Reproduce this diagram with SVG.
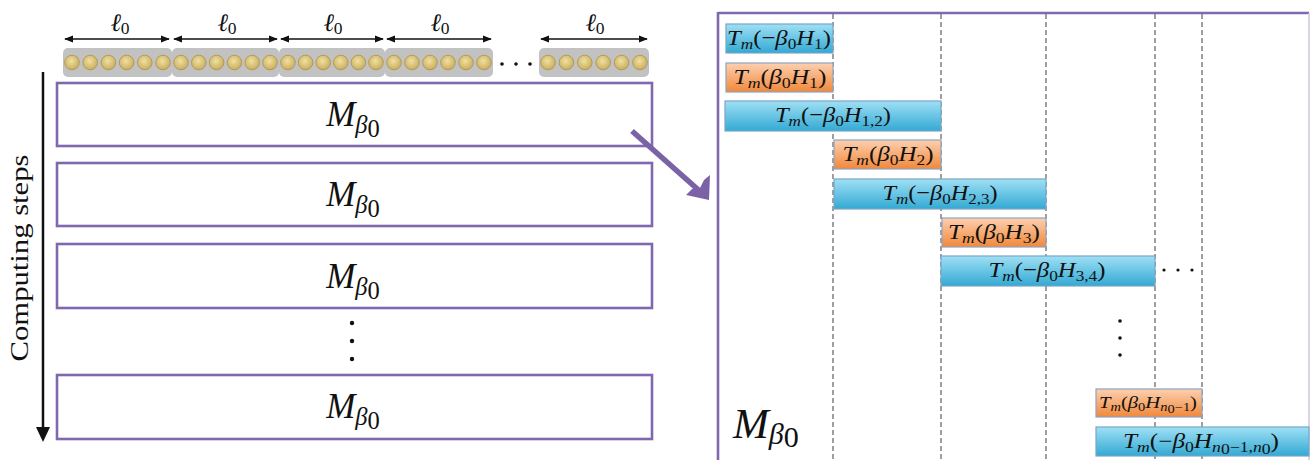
<svg xmlns="http://www.w3.org/2000/svg" width="1311" height="460" viewBox="0 0 1311 460">
<style>
.box{fill:#fff;stroke:#8068ae;stroke-width:2.6}
.seg{fill:#c2c2c2}
.bead{fill:url(#gold);stroke:#a8924c;stroke-width:0.8}
.m{font-family:"Liberation Serif","DejaVu Serif",serif;fill:#111}
.i{font-style:italic}
.s{font-size:70%}
.ell{font-family:"DejaVu Serif",serif;font-style:italic}
.dash{stroke:#777;stroke-width:1.4;stroke-dasharray:5,3;fill:none}
.blue{fill:url(#gb);stroke:#7aa6c6;stroke-width:1.2}
.orng{fill:url(#go);stroke:#8fa3c0;stroke-width:1.2}
.dim{stroke:#111;stroke-width:1.5;fill:none}
</style>
<defs>
<radialGradient id="gold" cx="0.45" cy="0.4" r="0.6">
<stop offset="0" stop-color="#f0e0a0"/><stop offset="1" stop-color="#c9ad5e"/>
</radialGradient>
<linearGradient id="gb" x1="0" y1="0" x2="0" y2="1">
<stop offset="0" stop-color="#9fe0f5"/><stop offset="1" stop-color="#33a9d3"/>
</linearGradient>
<linearGradient id="go" x1="0" y1="0" x2="0" y2="1">
<stop offset="0" stop-color="#fdd0b0"/><stop offset="1" stop-color="#f0883a"/>
</linearGradient>
<marker id="ah" viewBox="0 0 10 10" refX="9" refY="5" markerWidth="6" markerHeight="6" orient="auto-start-reverse">
<path d="M0,1 L10,5 L0,9 z" fill="#111"/>
</marker>
</defs>

<!-- chain of sites -->
<g id="chain">
<rect class="seg" x="63" y="48" width="109" height="29" rx="5"/>
<rect class="seg" x="172" y="48" width="107" height="29" rx="5"/>
<rect class="seg" x="279" y="48" width="106" height="29" rx="5"/>
<rect class="seg" x="385" y="48" width="108" height="29" rx="5"/>
<rect class="seg" x="539" y="48" width="110" height="29" rx="5"/>
<g>
<circle class="bead" cx="72" cy="62.5" r="7.3"/><circle class="bead" cx="90.2" cy="62.5" r="7.3"/><circle class="bead" cx="108.4" cy="62.5" r="7.3"/><circle class="bead" cx="126.6" cy="62.5" r="7.3"/><circle class="bead" cx="144.8" cy="62.5" r="7.3"/><circle class="bead" cx="163" cy="62.5" r="7.3"/>
<circle class="bead" cx="181" cy="62.5" r="7.3"/><circle class="bead" cx="198.8" cy="62.5" r="7.3"/><circle class="bead" cx="216.6" cy="62.5" r="7.3"/><circle class="bead" cx="234.4" cy="62.5" r="7.3"/><circle class="bead" cx="252.2" cy="62.5" r="7.3"/><circle class="bead" cx="270" cy="62.5" r="7.3"/>
<circle class="bead" cx="288" cy="62.5" r="7.3"/><circle class="bead" cx="305.6" cy="62.5" r="7.3"/><circle class="bead" cx="323.2" cy="62.5" r="7.3"/><circle class="bead" cx="340.8" cy="62.5" r="7.3"/><circle class="bead" cx="358.4" cy="62.5" r="7.3"/><circle class="bead" cx="376" cy="62.5" r="7.3"/>
<circle class="bead" cx="394" cy="62.5" r="7.3"/><circle class="bead" cx="412" cy="62.5" r="7.3"/><circle class="bead" cx="430" cy="62.5" r="7.3"/><circle class="bead" cx="448" cy="62.5" r="7.3"/><circle class="bead" cx="466" cy="62.5" r="7.3"/><circle class="bead" cx="484" cy="62.5" r="7.3"/>
<circle class="bead" cx="548" cy="62.5" r="7.3"/><circle class="bead" cx="566.4" cy="62.5" r="7.3"/><circle class="bead" cx="584.8" cy="62.5" r="7.3"/><circle class="bead" cx="603.2" cy="62.5" r="7.3"/><circle class="bead" cx="621.6" cy="62.5" r="7.3"/><circle class="bead" cx="640" cy="62.5" r="7.3"/>
</g>
<circle cx="502" cy="64" r="1.8" fill="#111"/><circle cx="516" cy="64" r="1.8" fill="#111"/><circle cx="530" cy="64" r="1.8" fill="#111"/>
</g>

<!-- length labels -->
<g id="lengths">
<line class="dim" x1="65" y1="39" x2="169" y2="39" marker-start="url(#ah)" marker-end="url(#ah)"/>
<line class="dim" x1="174" y1="39" x2="277" y2="39" marker-start="url(#ah)" marker-end="url(#ah)"/>
<line class="dim" x1="281" y1="39" x2="383" y2="39" marker-start="url(#ah)" marker-end="url(#ah)"/>
<line class="dim" x1="387" y1="39" x2="491" y2="39" marker-start="url(#ah)" marker-end="url(#ah)"/>
<line class="dim" x1="541" y1="39" x2="647" y2="39" marker-start="url(#ah)" marker-end="url(#ah)"/>
<text class="m" x="120" y="31" font-size="25" text-anchor="middle"><tspan class="ell">ℓ</tspan><tspan dy="3" class="s">0</tspan></text>
<text class="m" x="227" y="31" font-size="25" text-anchor="middle"><tspan class="ell">ℓ</tspan><tspan dy="3" class="s">0</tspan></text>
<text class="m" x="333" y="31" font-size="25" text-anchor="middle"><tspan class="ell">ℓ</tspan><tspan dy="3" class="s">0</tspan></text>
<text class="m" x="440" y="31" font-size="25" text-anchor="middle"><tspan class="ell">ℓ</tspan><tspan dy="3" class="s">0</tspan></text>
<text class="m" x="595" y="31" font-size="25" text-anchor="middle"><tspan class="ell">ℓ</tspan><tspan dy="3" class="s">0</tspan></text>
</g>

<!-- computing steps axis -->
<g id="axis">
<line x1="43" y1="72" x2="43" y2="428" stroke="#111" stroke-width="2.5"/>
<path d="M36,427 L50,427 L43,442 z" fill="#111"/>
<text class="m" x="0" y="0" font-size="26" text-anchor="middle" transform="translate(28,258) rotate(-90)" textLength="207" lengthAdjust="spacingAndGlyphs">Computing steps</text>
</g>

<!-- left M boxes -->
<g id="step1"><rect class="box" x="57" y="83" width="595" height="63"/>
<text class="m" x="353" y="126" font-size="35" text-anchor="middle"><tspan class="i">M</tspan><tspan class="i s" dy="7">β</tspan><tspan class="s" font-size="70%" dy="4">0</tspan></text></g>
<g id="step2"><rect class="box" x="57" y="163" width="595" height="63"/>
<text class="m" x="353" y="206" font-size="35" text-anchor="middle"><tspan class="i">M</tspan><tspan class="i s" dy="7">β</tspan><tspan class="s" font-size="70%" dy="4">0</tspan></text></g>
<g id="step3"><rect class="box" x="57" y="244" width="595" height="64"/>
<text class="m" x="353" y="288" font-size="35" text-anchor="middle"><tspan class="i">M</tspan><tspan class="i s" dy="7">β</tspan><tspan class="s" font-size="70%" dy="4">0</tspan></text></g>
<g id="vdots-left"><circle cx="352" cy="323" r="2.2" fill="#111"/><circle cx="352" cy="341" r="2.2" fill="#111"/><circle cx="352" cy="359" r="2.2" fill="#111"/></g>
<g id="step4"><rect class="box" x="57" y="375" width="595" height="64"/>
<text class="m" x="353" y="418" font-size="35" text-anchor="middle"><tspan class="i">M</tspan><tspan class="i s" dy="7">β</tspan><tspan class="s" font-size="70%" dy="4">0</tspan></text></g>

<!-- zoom arrow -->
<g id="connectors">
<line x1="632" y1="131" x2="703" y2="194" stroke="#7b62a7" stroke-width="5.5"/>
<path d="M709,200 L686,195 L692,189 L700,188 L704,180 L710,175 z" fill="#7b62a7"/>
</g>

<!-- right panel -->
<g id="panel">
<line x1="718" y1="13" x2="1309" y2="13" stroke="#8068ae" stroke-width="2.6"/>
<line x1="718" y1="12" x2="718" y2="460" stroke="#8068ae" stroke-width="2.6"/>
<line x1="1309" y1="13" x2="1309" y2="460" stroke="#cfc8dc" stroke-width="1.5"/>
<line class="dash" x1="833" y1="14" x2="833" y2="460"/>
<line class="dash" x1="941" y1="14" x2="941" y2="460"/>
<line class="dash" x1="1046" y1="14" x2="1046" y2="460"/>
<line class="dash" x1="1155" y1="14" x2="1155" y2="460"/>
<line class="dash" x1="1202" y1="14" x2="1202" y2="460"/>
<text class="m" x="733" y="438" font-size="43"><tspan class="i">M</tspan><tspan class="i s" dy="6">β</tspan><tspan class="s" font-size="70%" dy="3">0</tspan></text>
</g>

<g id="bar1"><rect class="blue" x="726" y="24" width="107" height="29"/>
<text class="m" x="779" y="45" font-size="22" text-anchor="middle" textLength="104" lengthAdjust="spacingAndGlyphs"><tspan class="i">T</tspan><tspan class="i s" dy="4">m</tspan><tspan dy="-4">(−</tspan><tspan class="i">β</tspan><tspan class="s" dy="4">0</tspan><tspan class="i" dy="-4">H</tspan><tspan class="s" dy="4">1</tspan><tspan dy="-4">)</tspan></text></g>
<g id="bar2"><rect class="orng" x="726" y="63" width="107" height="29"/>
<text class="m" x="780" y="84" font-size="22" text-anchor="middle" textLength="93" lengthAdjust="spacingAndGlyphs"><tspan class="i">T</tspan><tspan class="i s" dy="4">m</tspan><tspan dy="-4">(</tspan><tspan class="i">β</tspan><tspan class="s" dy="4">0</tspan><tspan class="i" dy="-4">H</tspan><tspan class="s" dy="4">1</tspan><tspan dy="-4">)</tspan></text></g>
<g id="bar3"><rect class="blue" x="725" y="101" width="216" height="30"/>
<text class="m" x="833" y="122" font-size="22" text-anchor="middle" textLength="116" lengthAdjust="spacingAndGlyphs"><tspan class="i">T</tspan><tspan class="i s" dy="4">m</tspan><tspan dy="-4">(−</tspan><tspan class="i">β</tspan><tspan class="s" dy="4">0</tspan><tspan class="i" dy="-4">H</tspan><tspan class="s" dy="4">1,2</tspan><tspan dy="-4">)</tspan></text></g>
<g id="bar4"><rect class="orng" x="834" y="140" width="107" height="29"/>
<text class="m" x="888" y="161" font-size="22" text-anchor="middle" textLength="91" lengthAdjust="spacingAndGlyphs"><tspan class="i">T</tspan><tspan class="i s" dy="4">m</tspan><tspan dy="-4">(</tspan><tspan class="i">β</tspan><tspan class="s" dy="4">0</tspan><tspan class="i" dy="-4">H</tspan><tspan class="s" dy="4">2</tspan><tspan dy="-4">)</tspan></text></g>
<g id="bar5"><rect class="blue" x="834" y="179" width="212" height="30"/>
<text class="m" x="940" y="200" font-size="22" text-anchor="middle" textLength="115" lengthAdjust="spacingAndGlyphs"><tspan class="i">T</tspan><tspan class="i s" dy="4">m</tspan><tspan dy="-4">(−</tspan><tspan class="i">β</tspan><tspan class="s" dy="4">0</tspan><tspan class="i" dy="-4">H</tspan><tspan class="s" dy="4">2,3</tspan><tspan dy="-4">)</tspan></text></g>
<g id="bar6"><rect class="orng" x="942" y="218" width="104" height="29"/>
<text class="m" x="994" y="239" font-size="22" text-anchor="middle" textLength="92" lengthAdjust="spacingAndGlyphs"><tspan class="i">T</tspan><tspan class="i s" dy="4">m</tspan><tspan dy="-4">(</tspan><tspan class="i">β</tspan><tspan class="s" dy="4">0</tspan><tspan class="i" dy="-4">H</tspan><tspan class="s" dy="4">3</tspan><tspan dy="-4">)</tspan></text></g>
<g id="bar7"><rect class="blue" x="941" y="256" width="214" height="30"/>
<text class="m" x="1047" y="277" font-size="22" text-anchor="middle" textLength="117" lengthAdjust="spacingAndGlyphs"><tspan class="i">T</tspan><tspan class="i s" dy="4">m</tspan><tspan dy="-4">(−</tspan><tspan class="i">β</tspan><tspan class="s" dy="4">0</tspan><tspan class="i" dy="-4">H</tspan><tspan class="s" dy="4">3,4</tspan><tspan dy="-4">)</tspan></text></g>
<g id="dots-right">
<circle cx="1164" cy="270" r="1.6" fill="#111"/><circle cx="1178" cy="270" r="1.6" fill="#111"/><circle cx="1192" cy="270" r="1.6" fill="#111"/>
<circle cx="1120" cy="321" r="1.8" fill="#111"/><circle cx="1120" cy="338" r="1.8" fill="#111"/><circle cx="1120" cy="355" r="1.8" fill="#111"/>
</g>
<g id="bar8"><rect class="orng" x="1096" y="389" width="106" height="28"/>
<text class="m" x="1148" y="408" font-size="17" text-anchor="middle" textLength="98" lengthAdjust="spacingAndGlyphs"><tspan class="i">T</tspan><tspan class="i s" dy="3">m</tspan><tspan dy="-3">(</tspan><tspan class="i">β</tspan><tspan class="s" dy="3">0</tspan><tspan class="i" dy="-3">H</tspan><tspan class="i s" dy="3">n</tspan><tspan class="s" font-size="70%" dy="2">0</tspan><tspan class="s" dy="-2">−1</tspan><tspan dy="-3">)</tspan></text></g>
<g id="bar9"><rect class="blue" x="1096" y="427" width="213" height="29"/>
<text class="m" x="1201" y="448" font-size="21" text-anchor="middle" textLength="156" lengthAdjust="spacingAndGlyphs"><tspan class="i">T</tspan><tspan class="i s" dy="4">m</tspan><tspan dy="-4">(−</tspan><tspan class="i">β</tspan><tspan class="s" dy="4">0</tspan><tspan class="i" dy="-4">H</tspan><tspan class="i s" dy="4">n</tspan><tspan class="s" font-size="70%" dy="2">0</tspan><tspan class="s" dy="-2">−1,</tspan><tspan class="i s">n</tspan><tspan class="s" font-size="70%" dy="2">0</tspan><tspan dy="-6">)</tspan></text></g>
</svg>
